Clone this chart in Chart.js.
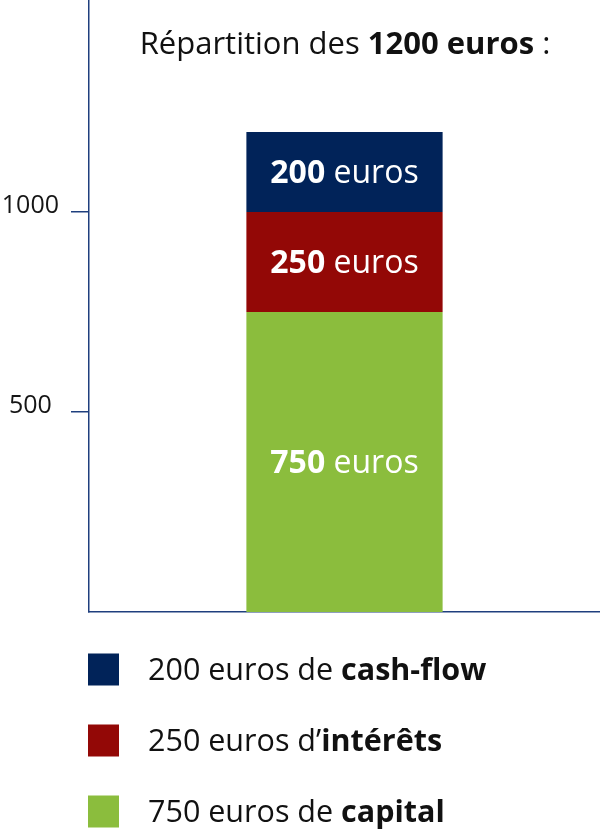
<!DOCTYPE html>
<html>
<head>
<meta charset="utf-8">
<script src="https://cdn.jsdelivr.net/npm/chart.js@4/dist/chart.umd.min.js"></script>
<style>
  html, body { margin: 0; padding: 0; background: #fff; }
  #wrap { width: 600px; height: 833px; position: relative; }
</style>
</head>
<body>
<div id="wrap"><canvas id="repartition"></canvas></div>
<script>
// données
const categories = ['1200 euros'];
const serieNoms = ['capital', 'intérêts', 'cash-flow'];
const serieValeurs = [750, 250, 200];
const serieCouleurs = ['#8bbd3d', '#930806', '#012359'];
const graduations = [500, 1000];
const legendeLignes = [
    ['200 euros de ', 'cash-flow'],
    ['250 euros d\u2019', 'intérêts'],
    ['750 euros de ', 'capital']
];
const legendeCouleurs = ['#012359', '#930806', '#8bbd3d'];

const POLICE = '"Open Sans", sans-serif';
const BLEU_AXE = '#1f3f7e';

// dessine une suite de morceaux [texte, gras]
function texteMixte(ctx, morceaux, x, y, taille, couleur, centre) {
    let largeur = 0;
    morceaux.forEach(m => {
        ctx.font = (m[1] ? '700 ' : '400 ') + taille + 'px ' + POLICE;
        largeur += ctx.measureText(m[0]).width;
    });
    let cx = centre ? x - largeur / 2 : x;
    ctx.fillStyle = couleur;
    ctx.textBaseline = 'middle';
    ctx.textAlign = 'left';
    morceaux.forEach(m => {
        ctx.font = (m[1] ? '700 ' : '400 ') + taille + 'px ' + POLICE;
        ctx.fillText(m[0], cx, y);
        cx += ctx.measureText(m[0]).width;
    });
}

const decor = {
    id: 'decor',
    afterDatasetsDraw(chart) {
        const ctx = chart.ctx;
        ctx.save();
        // titre
        texteMixte(ctx, [['Répartition des ', false], ['1200 euros', true], [' :', false]],
            345, 45, 31, '#111', true);
        // étiquettes des segments
        chart.data.datasets.forEach((ds, i) => {
            const bar = chart.getDatasetMeta(i).data[0];
            const yMid = (bar.y + bar.base) / 2;
            texteMixte(ctx, [[String(ds.data[0]), true], [' euros', false]],
                bar.x, yMid + 1.5, 32, '#fff', true);
        });
        // légende
        legendeLignes.forEach((l, i) => {
            const y = 669.5 + i * 71;
            ctx.fillStyle = legendeCouleurs[i];
            ctx.fillRect(88, y - 16, 31, 32);
            texteMixte(ctx, [[l[0], false], [l[1], true]], 148, y + 1.5, 30.5, '#111', false);
        });
        ctx.restore();
    }
};

const ctx = document.getElementById('repartition').getContext('2d');
new Chart(ctx, {
    type: 'bar',
    data: {
        labels: categories,
        datasets: serieNoms.map((nom, i) => ({
            label: nom,
            data: [serieValeurs[i]],
            backgroundColor: serieCouleurs[i],
            borderWidth: 0,
            barPercentage: 1,
            categoryPercentage: 0.384
        }))
    },
    options: {
        responsive: true,
        maintainAspectRatio: false,
        animation: false,
        layout: { padding: { top: 0, right: 0, bottom: 221, left: 0 } },
        plugins: {
            legend: { display: false },
            tooltip: { enabled: false }
        },
        scales: {
            x: {
                stacked: true,
                ticks: { display: false },
                grid: { display: false, drawTicks: false },
                border: { display: true, color: BLEU_AXE, width: 1.5 },
                afterFit: s => { s.height = 0; s.paddingLeft = 0; s.paddingRight = 0; }
            },
            y: {
                stacked: true,
                min: 0,
                max: 1530,
                afterBuildTicks: s => { s.ticks = graduations.map(v => ({ value: v })); },
                ticks: {
                    padding: 12,
                    crossAlign: 'center',
                    labelOffset: -6,
                    color: '#151515',
                    font: { family: POLICE, size: 25 },
                    callback: v => String(v)
                },
                grid: {
                    drawOnChartArea: false,
                    tickLength: 18,
                    color: BLEU_AXE,
                    lineWidth: 1.5
                },
                border: { display: true, color: BLEU_AXE, width: 1.5 },
                afterFit: s => { s.width = 89; s.paddingTop = 0; s.paddingBottom = 0; }
            }
        }
    },
    plugins: [decor]
});
</script>
</body>
</html>
